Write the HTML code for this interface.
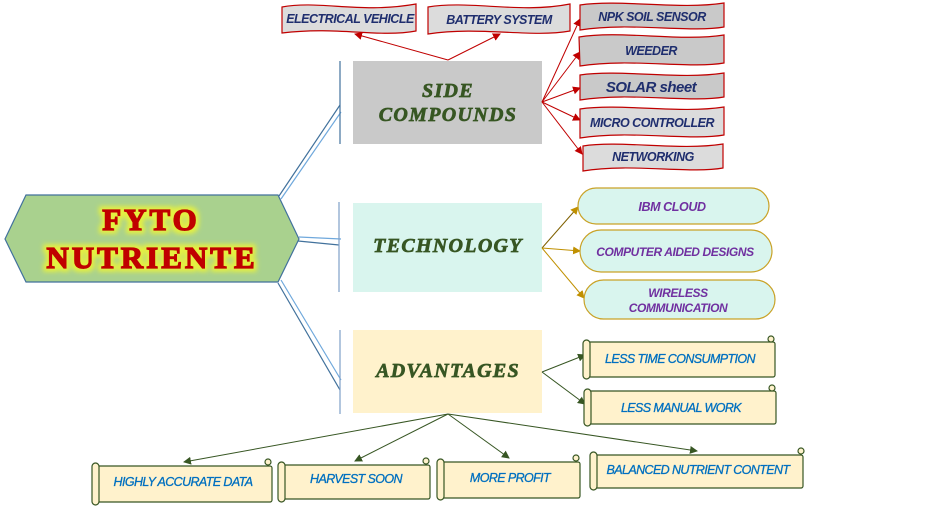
<!DOCTYPE html>
<html><head><meta charset="utf-8"><style>
html,body{margin:0;padding:0;background:#fff;width:928px;height:515px;overflow:hidden}
svg{display:block}
.b{font-family:"Liberation Sans",sans-serif;font-style:italic;font-weight:bold;font-size:12.5px;fill:#1f2e6e;text-anchor:middle;letter-spacing:-0.5px}
.e{font-family:"Liberation Sans",sans-serif;font-style:italic;font-weight:bold;font-size:12.5px;fill:#7030a0;text-anchor:middle;letter-spacing:-0.4px}
.s{font-family:"Liberation Sans",sans-serif;font-style:italic;font-size:12.5px;fill:#0070c0;text-anchor:middle;letter-spacing:-0.6px;stroke:#0070c0;stroke-width:0.3}
.h{font-family:"Liberation Serif",serif;font-style:italic;font-weight:bold;font-size:20px;fill:#375623;text-anchor:middle;letter-spacing:1.3px;stroke:#375623;stroke-width:0.7}
</style></head><body>
<svg width="928" height="515" viewBox="0 0 928 515" xmlns="http://www.w3.org/2000/svg">
<defs>
<marker id="ar" markerWidth="8" markerHeight="8" refX="7" refY="4" orient="auto" markerUnits="userSpaceOnUse"><path d="M0,0 L8,4 L0,8 Z" fill="#c00000"/></marker>
<marker id="ag" markerWidth="8" markerHeight="8" refX="7" refY="4" orient="auto" markerUnits="userSpaceOnUse"><path d="M0,0 L8,4 L0,8 Z" fill="#c09000"/></marker>
<marker id="ad" markerWidth="8" markerHeight="8" refX="7" refY="4" orient="auto" markerUnits="userSpaceOnUse"><path d="M0,0 L8,4 L0,8 Z" fill="#375623"/></marker>
<filter id="glow" x="-20%" y="-40%" width="140%" height="180%"><feMorphology operator="dilate" radius="3" in="SourceAlpha" result="d"/><feGaussianBlur in="d" stdDeviation="2.5" result="b"/><feFlood flood-color="#e5f040"/><feComposite in2="b" operator="in"/><feMerge><feMergeNode/><feMergeNode in="SourceGraphic"/></feMerge></filter>
</defs>

<g fill="none" stroke-width="1.2">
<line x1="279" y1="196" x2="340" y2="105" stroke="#41719c"/>
<line x1="281" y1="199" x2="341" y2="112" stroke="#6fa8dc"/>
<line x1="299" y1="237" x2="341" y2="239" stroke="#6fa8dc"/>
<line x1="298" y1="241" x2="339" y2="245" stroke="#41719c"/>
<line x1="281" y1="280" x2="341" y2="380" stroke="#6fa8dc"/>
<line x1="278" y1="283" x2="340" y2="390" stroke="#41719c"/>
<line x1="340" y1="61" x2="340" y2="144" stroke="#41719c"/>
<line x1="339" y1="202" x2="339" y2="292" stroke="#7f9fc8"/>
<line x1="340" y1="330" x2="340" y2="414" stroke="#7f9fc8"/>
</g>

<polygon points="5,239 26,195 278,195 299,239 278,282 26,282" fill="#a9d18e" stroke="#41719c" stroke-width="1.2"/>
<g filter="url(#glow)" font-family="Liberation Serif,serif" font-weight="bold" font-size="31" fill="#c00000" text-anchor="middle" stroke="#c00000" stroke-width="1.5" letter-spacing="3">
<text x="151" y="230">FYTO</text>
<text x="152" y="268">NUTRIENTE</text>
</g>

<rect x="353" y="61" width="189" height="83" fill="#c9c9c9"/>
<text class="h" x="448" y="97">SIDE</text>
<text class="h" x="448" y="121">COMPOUNDS</text>
<rect x="353" y="203" width="189" height="89" fill="#d9f5ee"/>
<text class="h" x="448" y="252">TECHNOLOGY</text>
<rect x="353" y="330" width="189" height="83" fill="#fff2cc"/>
<text class="h" x="448" y="377">ADVANTAGES</text>

<g stroke="#c00000" stroke-width="1" fill="none" marker-end="url(#ar)">
<line x1="448" y1="60" x2="355" y2="34"/>
<line x1="448" y1="60" x2="500" y2="34"/>
<line x1="542" y1="102" x2="580" y2="19"/>
<line x1="542" y1="102" x2="580" y2="52"/>
<line x1="542" y1="102" x2="580" y2="88"/>
<line x1="542" y1="102" x2="580" y2="120"/>
<line x1="542" y1="102" x2="582" y2="154"/>
</g>

<g stroke="#c00000" stroke-width="1.2">
<path d="M282,7 C320,0 360,14 416,4 L416,31 C378,38 338,26 282,33 Z" fill="#dcdcdc"/>
<path d="M428,7 C470,0 520,14 570,4 L570,31 C530,38 480,26 428,34 Z" fill="#dcdcdc"/>
<path d="M580,5 C620,-1 680,10 724,3 L724,27 C690,33 630,22 580,30 Z" fill="#c9c9c9"/>
<path d="M579,37 C620,30 680,42 724,35 L724,63 C690,69 630,58 580,66 Z" fill="#c9c9c9"/>
<path d="M580,75 C620,69 680,80 724,73 L724,97 C690,103 630,92 580,100 Z" fill="#c9c9c9"/>
<path d="M580,109 C620,103 680,114 724,107 L724,135 C690,141 630,130 580,138 Z" fill="#dcdcdc"/>
<path d="M583,146 C620,140 680,151 723,144 L723,168 C690,174 630,163 583,171 Z" fill="#dcdcdc"/>
</g>
<text class="b" x="350" y="23">ELECTRICAL VEHICLE</text>
<text class="b" x="499" y="24">BATTERY SYSTEM</text>
<text class="b" x="652" y="21">NPK SOIL SENSOR</text>
<text class="b" x="651" y="55">WEEDER</text>
<text class="b" x="651" y="92" style="font-size:15px">SOLAR sheet</text>
<text class="b" x="652" y="127">MICRO CONTROLLER</text>
<text class="b" x="653" y="161">NETWORKING</text>

<g stroke="#c09000" stroke-width="1" fill="none" marker-end="url(#ag)">
<line x1="542" y1="248" x2="578" y2="207" stroke="#7f6000"/>
<line x1="542" y1="248" x2="580" y2="251"/>
<line x1="542" y1="248" x2="584" y2="298"/>
</g>
<g fill="#d9f5ee" stroke="#c9a227" stroke-width="1.2">
<rect x="578" y="188" width="191" height="36" rx="18"/>
<rect x="580" y="230" width="192" height="42" rx="21"/>
<rect x="584" y="280" width="191" height="39" rx="19.5"/>
</g>
<text class="e" x="672" y="211">IBM CLOUD</text>
<text class="e" x="675" y="256" style="font-size:12px">COMPUTER AIDED DESIGNS</text>
<text class="e" x="678" y="297" style="font-size:12px">WIRELESS</text>
<text class="e" x="678" y="312" style="font-size:12px">COMMUNICATION</text>

<g stroke="#375623" stroke-width="1" fill="none" marker-end="url(#ad)">
<line x1="542" y1="372" x2="585" y2="355"/>
<line x1="542" y1="372" x2="585" y2="404"/>
<line x1="448" y1="414" x2="184" y2="462"/>
<line x1="448" y1="414" x2="355" y2="461"/>
<line x1="448" y1="414" x2="509" y2="458"/>
<line x1="448" y1="414" x2="697" y2="451"/>
</g>

<g fill="#fff2cc" stroke="#375623" stroke-width="1.2">
<rect x="588" y="342" width="187" height="35" rx="2"/><rect x="583" y="340" width="7" height="39" rx="3.5"/><circle cx="771" cy="339" r="3"/>
<rect x="589" y="391" width="187" height="33" rx="2"/><rect x="584" y="389" width="7" height="37" rx="3.5"/><circle cx="772" cy="388" r="3"/>
<rect x="97" y="466" width="175" height="36" rx="2"/><rect x="92" y="463" width="7" height="42" rx="3.5"/><circle cx="268" cy="462" r="3"/>
<rect x="283" y="465" width="147" height="34" rx="2"/><rect x="278" y="462" width="7" height="40" rx="3.5"/><circle cx="426" cy="461" r="3"/>
<rect x="442" y="462" width="138" height="36" rx="2"/><rect x="437" y="459" width="7" height="41" rx="3.5"/><circle cx="576" cy="458" r="3"/>
<rect x="595" y="455" width="208" height="33" rx="2"/><rect x="590" y="452" width="7" height="38" rx="3.5"/><circle cx="801" cy="451" r="3"/>
</g>
<text class="s" x="680" y="363">LESS TIME CONSUMPTION</text>
<text class="s" x="681" y="412">LESS MANUAL WORK</text>
<text class="s" x="183" y="486">HIGHLY ACCURATE DATA</text>
<text class="s" x="356" y="483">HARVEST SOON</text>
<text class="s" x="510" y="482">MORE PROFIT</text>
<text class="s" x="698" y="474">BALANCED NUTRIENT CONTENT</text>
</svg>
</body></html>
